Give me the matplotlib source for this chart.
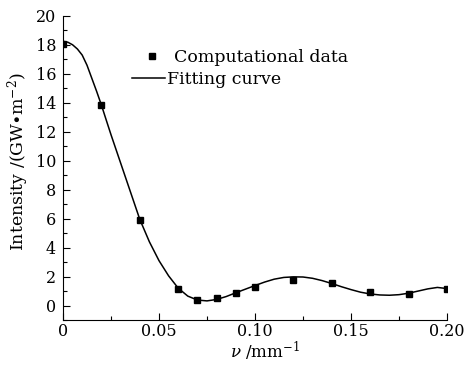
import matplotlib
matplotlib.use("Agg")
import matplotlib.pyplot as plt
from matplotlib.ticker import MultipleLocator

# Computational data (markers)
data_x = [0.0, 0.02, 0.04, 0.06, 0.07, 0.08, 0.09, 0.10, 0.12, 0.14, 0.16, 0.18, 0.20]
data_y = [18.1, 13.85, 5.93, 1.15, 0.39, 0.55, 0.87, 1.29, 1.79, 1.54, 0.92, 0.78, 1.15]

# Fitting curve
fit_x = [0.000, 0.0025, 0.005, 0.0075, 0.010, 0.0125, 0.015, 0.0175, 0.020, 0.0225,
         0.025, 0.030, 0.035, 0.040, 0.045,
         0.050, 0.055, 0.060, 0.065, 0.070, 0.075, 0.080, 0.085, 0.090, 0.095,
         0.100, 0.105, 0.110, 0.115, 0.120, 0.125, 0.130, 0.135, 0.140, 0.145,
         0.150, 0.155, 0.160, 0.165, 0.170, 0.175, 0.180, 0.185, 0.190, 0.195, 0.200]
fit_y = [18.25, 18.19, 18.01, 17.72, 17.30, 16.60, 15.70, 14.80, 13.85, 12.82,
         11.80, 9.85, 7.90, 5.95, 4.40,
         3.10, 2.05, 1.20, 0.65, 0.38, 0.32, 0.42, 0.62, 0.88, 1.13,
         1.38, 1.62, 1.82, 1.94, 1.98, 1.97, 1.88, 1.72, 1.52, 1.30,
         1.10, 0.92, 0.80, 0.73, 0.71, 0.75, 0.85, 1.00, 1.15, 1.25, 1.17]

x_ticks = [0, 0.05, 0.10, 0.15, 0.20]
x_ticklabels = ["0", "0.05", "0.10", "0.15", "0.20"]
y_ticks = list(range(0, 21, 2))

plt.rcParams['font.family'] = ['DejaVu Serif']
plt.rcParams['mathtext.fontset'] = 'dejavuserif'

W, H = 465, 368
fig = plt.figure(figsize=(W / 100, H / 100), dpi=100)
ax = fig.add_axes([63 / W, 1 - 320 / H, 384 / W, 304 / H])

line_fit, = ax.plot(fit_x, fit_y, color='black', lw=1.1, zorder=2)
line_dat, = ax.plot(data_x, data_y, ls='none', marker='s', ms=5, color='black', zorder=3)

ax.set_xlim(0, 0.20)
ax.set_ylim(-1, 20)
ax.set_xticks(x_ticks)
ax.set_xticklabels(x_ticklabels)
ax.set_yticks(y_ticks)
ax.xaxis.set_minor_locator(MultipleLocator(0.025))
ax.yaxis.set_minor_locator(MultipleLocator(1))
ax.tick_params(which='both', direction='in', labelsize=11.5, width=0.8)
ax.tick_params(which='major', length=5)
ax.tick_params(axis='x', which='major', pad=2)
ax.tick_params(axis='y', which='major', pad=5)
ax.tick_params(which='minor', length=3)
ax.spines['top'].set_visible(False)
ax.spines['right'].set_visible(False)

ax.set_xlabel(r'$\nu$ /mm$^{-1}$', fontsize=12)
ax.xaxis.set_label_coords((265 - 63) / 384, -(358 - 320) / 304)
ax.xaxis.label.set_va('baseline')
ax.set_ylabel(r'Intensity /(GW$\bullet$m$^{-2}$)', fontsize=12.5)
ax.yaxis.set_label_coords(-(63 - 18) / 384, (320 - 162) / 304)
ax.yaxis.label.set_va('center')

fs = 12.5
leg1 = ax.legend([line_dat], ['Computational data'], loc='center left',
                 bbox_to_anchor=(138 / W, 1 - 58 / H), bbox_transform=fig.transFigure,
                 frameon=False, fontsize=fs, borderpad=0, borderaxespad=0,
                 handlelength=1.6, handletextpad=0.5)
ax.add_artist(leg1)
ax.legend([line_fit], ['Fitting curve'], loc='center left',
          bbox_to_anchor=(132 / W, 1 - 80 / H), bbox_transform=fig.transFigure,
          frameon=False, fontsize=fs, borderpad=0, borderaxespad=0,
          handlelength=1.9, handletextpad=0.12)

fig.savefig('out.png', dpi=100)
